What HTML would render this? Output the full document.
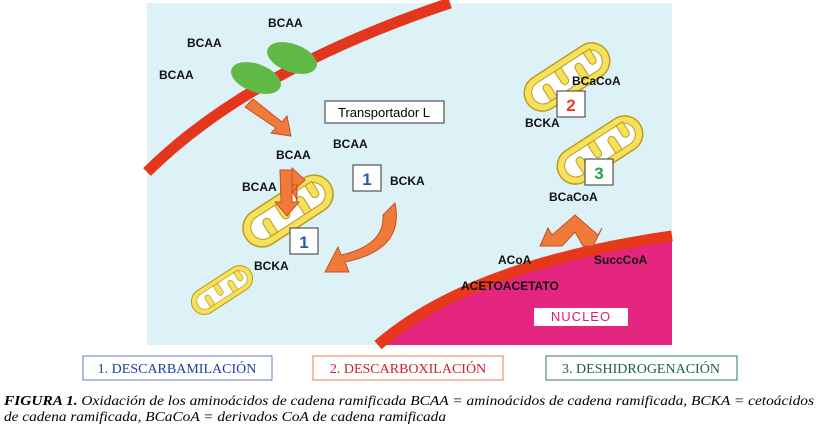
<!DOCTYPE html>
<html><head><meta charset="utf-8"><style>
body{margin:0;background:#fff;width:818px;height:430px;overflow:hidden}
svg{display:block}
</style></head><body>
<svg width="818" height="430" viewBox="0 0 818 430" xmlns="http://www.w3.org/2000/svg">
<defs>
<g id="mito">
<rect x="-50" y="-19" width="100" height="38" rx="19" fill="#f7e05a" stroke="#b89a20" stroke-width="1.5"/>
<rect x="-42" y="-12" width="84" height="24" rx="12" fill="#fff" stroke="#b89a20" stroke-width="1"/>
<path d="M-28 12 V-2 a4 4 0 0 1 8 0 V12 Z M-8 -12 V2 a4 4 0 0 0 8 0 V-12 Z M12 12 V-2 a4 4 0 0 1 8 0 V12 Z M28 -12 V0 a4 4 0 0 0 8 0 V-12 Z" fill="#f7e05a" stroke="#b89a20" stroke-width="1"/>
</g>
</defs>
<rect x="147" y="3" width="525" height="342" fill="#ddf2f6"/>
<path d="M147 172 Q250 70 450 3" fill="none" stroke="#e4361c" stroke-width="11"/>
<path d="M378 345 Q470 265 672 236 L672 345 Z" fill="#e42680"/>
<path d="M378 345 Q470 265 672 236" fill="none" stroke="#e8381c" stroke-width="11"/>
<ellipse cx="256" cy="78" rx="26" ry="14" transform="rotate(20 256 78)" fill="#62b844"/>
<ellipse cx="292" cy="58" rx="26" ry="14" transform="rotate(20 292 58)" fill="#62b844"/>
<use href="#mito" transform="translate(288 211) rotate(-33)"/>
<use href="#mito" transform="translate(222 290) rotate(-33) scale(0.68)"/>
<use href="#mito" transform="translate(567 77) rotate(-33) scale(0.95)"/>
<use href="#mito" transform="translate(600 150) rotate(-33) scale(0.95)"/>
<g fill="#f07a3a" stroke="#c85020" stroke-width="1">
<path d="M245 107 L253 99 L282 122 L287 116 L291 136 L271 133 L276 128 Z"/>
<path d="M283 175 L292 175 L292 168 L305 180 L292 192 L292 185 L297 185 L297 200 Z" />
<path d="M280 170 L292 170 L292 202 L299 202 L287 216 L275 202 L281 202 Z"/>
<path d="M395 203 Q405 250 345 262 L349 272 L325 272 L338 247 L341 255 Q385 245 383 215 Z"/>
<path d="M540 246 L548 228 L552 235 L575 215 L598 235 L602 228 L593 246 L583 246 L575 232 L562 246 Z"/>
</g>
<g fill="#fff" stroke="#333" stroke-width="1">
<rect x="325" y="101" width="119" height="22"/>
<rect x="353" y="165" width="28" height="26"/>
<rect x="290" y="228" width="28" height="26"/>
<rect x="557" y="91" width="28" height="26"/>
<rect x="585" y="159" width="28" height="26"/>
</g>
<rect x="534" y="308" width="94" height="18" fill="#fff"/>
<g font-family="Liberation Sans, sans-serif" font-weight="bold" font-size="17" text-anchor="middle">
<text x="367" y="185" fill="#2a5ab0">1</text>
<text x="304" y="248" fill="#2a5ab0">1</text>
<text x="571" y="111" fill="#e83a28">2</text>
<text x="599" y="179" fill="#22a050">3</text>
</g>
<text x="384" y="117" font-family="Liberation Sans, sans-serif" font-size="13" text-anchor="middle">Transportador L</text>
<g font-family="Liberation Sans, sans-serif" font-weight="bold" font-size="12" fill="#111">
<text x="268" y="27">BCAA</text>
<text x="187" y="47">BCAA</text>
<text x="159" y="79">BCAA</text>
<text x="333" y="148">BCAA</text>
<text x="276" y="159">BCAA</text>
<text x="242" y="191">BCAA</text>
<text x="390" y="185">BCKA</text>
<text x="254" y="270">BCKA</text>
<text x="572" y="85">BCaCoA</text>
<text x="525" y="127">BCKA</text>
<text x="549" y="201">BCaCoA</text>
<text x="498" y="264">ACoA</text>
<text x="594" y="264">SuccCoA</text>
<text x="461" y="290">ACETOACETATO</text>
</g>
<text x="581" y="321" font-family="Liberation Sans, sans-serif" font-size="13" fill="#e01a78" text-anchor="middle" letter-spacing="1">NUCLEO</text>
<rect x="83" y="356" width="189" height="24" fill="none" stroke="#5a7ac8"/>
<rect x="313" y="356" width="190" height="24" fill="none" stroke="#f08050"/>
<rect x="546" y="356" width="191" height="24" fill="none" stroke="#308050"/>
<g font-family="Liberation Serif, serif" font-size="14" text-anchor="middle">
<text x="177" y="373" fill="#1a40a0">1. DESCARBAMILACIÓN</text>
<text x="408" y="373" fill="#d02020">2. DESCARBOXILACIÓN</text>
<text x="641" y="373" fill="#206040">3. DESHIDROGENACIÓN</text>
</g>
<g font-family="Liberation Serif, serif" font-size="13.5" font-style="italic">
<text x="4" y="405" textLength="810" lengthAdjust="spacingAndGlyphs"><tspan font-weight="bold">FIGURA 1.</tspan> Oxidación de los aminoácidos de cadena ramificada BCAA = aminoácidos de cadena ramificada, BCKA = cetoácidos</text>
<text x="4" y="421" textLength="442" lengthAdjust="spacingAndGlyphs">de cadena ramificada, BCaCoA = derivados CoA de cadena ramificada</text>
</g>
</svg>
</body></html>
